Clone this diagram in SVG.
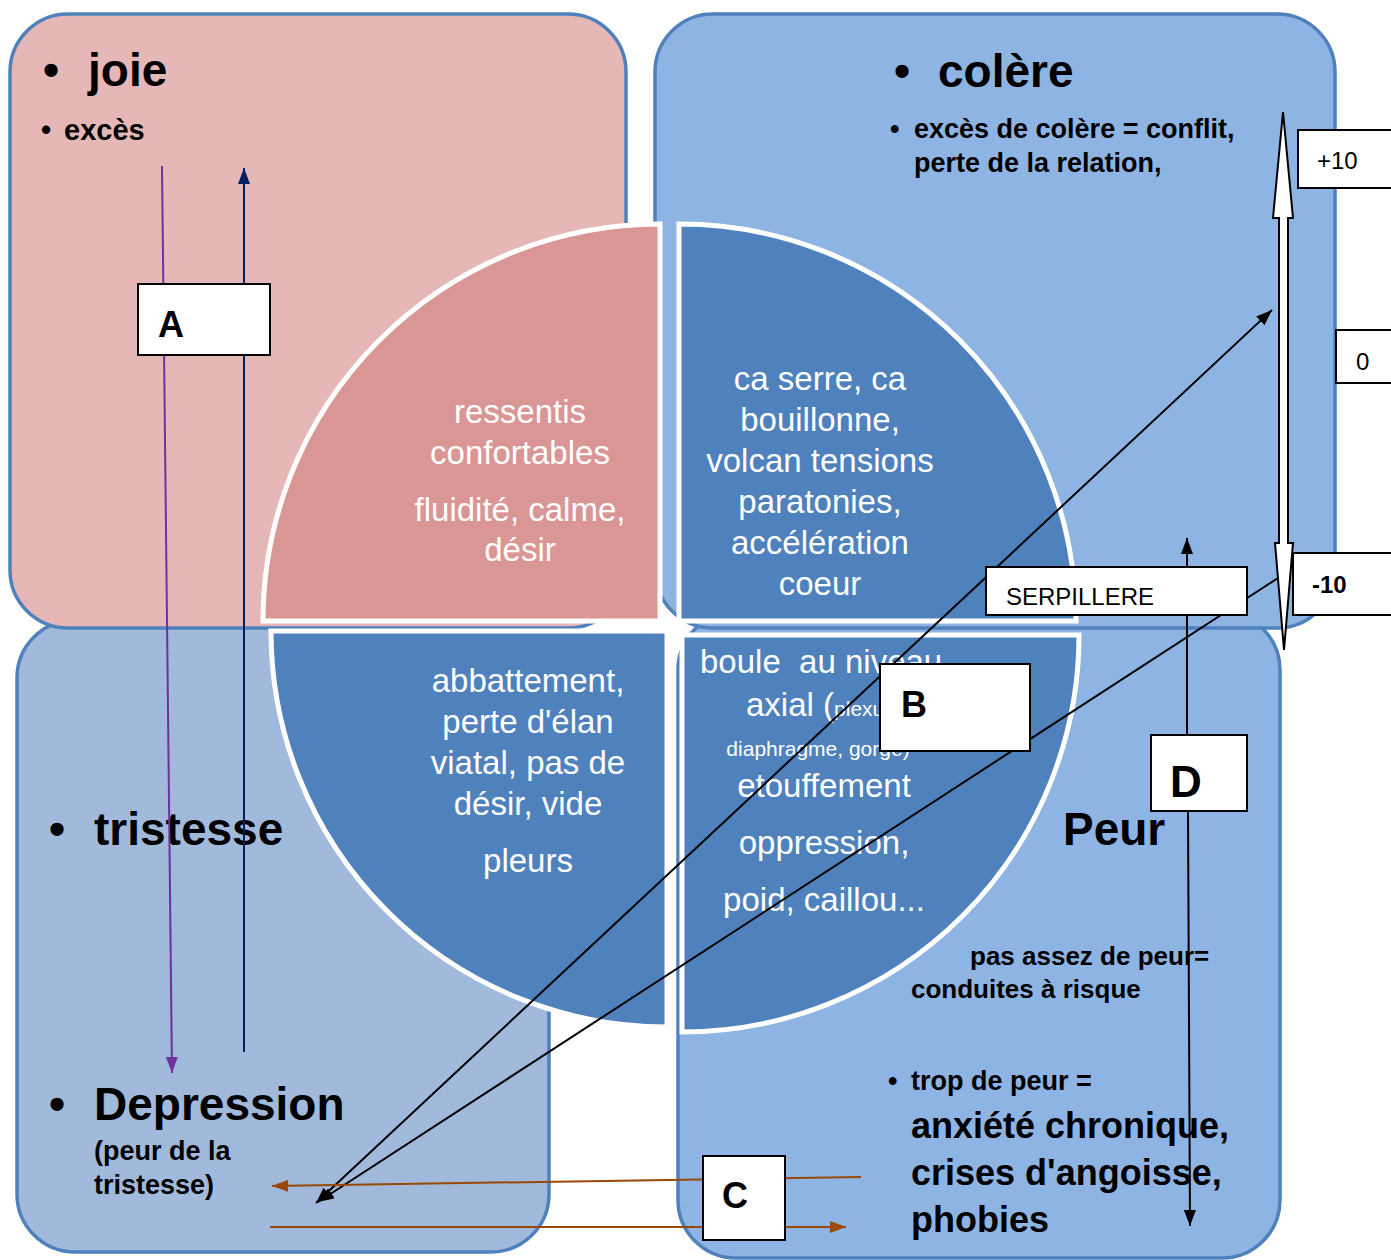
<svg xmlns="http://www.w3.org/2000/svg" width="1391" height="1260" viewBox="0 0 1391 1260">
<style>
text{font-family:"Liberation Sans",Arial,sans-serif}
.bx{stroke:#4F81BD;stroke-width:3.5}
.q{stroke:#fff;stroke-width:5}
.qt{font-size:33px;fill:#fff;text-anchor:middle}
.qs{font-size:21px;fill:#fff}
.h{font-size:46px;font-weight:bold;fill:#000}
.b{font-weight:bold;fill:#000}
.lb{fill:#fff;stroke:#000;stroke-width:2}
.ln{fill:none;stroke-width:2}
</style>
<defs>
<marker id="mk" viewBox="0 0 16 12" refX="16" refY="6" markerWidth="16" markerHeight="12" markerUnits="userSpaceOnUse" orient="auto-start-reverse"><path d="M0,0 L16,6 L0,12 z" fill="#000"/></marker>
<marker id="mp" viewBox="0 0 16 12" refX="16" refY="6" markerWidth="16" markerHeight="12" markerUnits="userSpaceOnUse" orient="auto-start-reverse"><path d="M0,0 L16,6 L0,12 z" fill="#7030A0"/></marker>
<marker id="mn" viewBox="0 0 16 12" refX="16" refY="6" markerWidth="16" markerHeight="12" markerUnits="userSpaceOnUse" orient="auto-start-reverse"><path d="M0,0 L16,6 L0,12 z" fill="#002060"/></marker>
<marker id="mb" viewBox="0 0 16 12" refX="16" refY="6" markerWidth="16" markerHeight="12" markerUnits="userSpaceOnUse" orient="auto-start-reverse"><path d="M0,0 L16,6 L0,12 z" fill="#984807"/></marker>
</defs>
<rect width="1391" height="1260" fill="#fff"/>

<g id="tristesse">
<rect class="bx" x="17" y="620" width="532" height="632" rx="58" fill="#A1BADB"/>
<text class="h" x="49" y="845">•</text>
<text class="h" x="94" y="845">tristesse</text>
<text class="h" x="49" y="1120">•</text>
<text class="h" x="94" y="1120">Depression</text>
<text class="b" x="94" y="1160" font-size="27">(peur de la</text>
<text class="b" x="94" y="1194" font-size="27">tristesse)</text>
</g>

<g id="peur">
<rect class="bx" x="678" y="612" width="602" height="646" rx="58" fill="#8EB4E3"/>
<text class="h" x="1063" y="845">Peur</text>
<text class="b" x="970" y="965" font-size="26">pas assez de peur=</text>
<text class="b" x="911" y="998" font-size="26">conduites à risque</text>
<text class="b" x="888" y="1090" font-size="27">•</text>
<text class="b" x="911" y="1090" font-size="27">trop de peur =</text>
<text class="b" x="911" y="1138" font-size="36">anxiété chronique,</text>
<text class="b" x="911" y="1185" font-size="36">crises d'angoisse,</text>
<text class="b" x="911" y="1232" font-size="36">phobies</text>
</g>

<g id="joie">
<rect class="bx" x="10" y="14" width="616" height="614" rx="58" fill="#E5B8B7"/>
<text class="h" x="43" y="86">•</text>
<text class="h" x="88" y="86">joie</text>
<text class="b" x="41" y="140" font-size="29">•</text>
<text class="b" x="64" y="140" font-size="29">excès</text>
</g>

<g id="colere">
<rect class="bx" x="655" y="14" width="680" height="614" rx="58" fill="#8EB4E3"/>
<text class="h" x="894" y="87">•</text>
<text class="h" x="938" y="87">colère</text>
<text class="b" x="890" y="138" font-size="27">•</text>
<text class="b" x="914" y="138" font-size="27">excès de colère = conflit,</text>
<text class="b" x="914" y="172" font-size="27">perte de la relation,</text>
</g>

<g id="quadrant-joie">
<path class="q" fill="#D99694" d="M660,621 L263,621 A397,397 0 0 1 660,224 Z"/>
<text class="qt" x="520" y="423">ressentis</text>
<text class="qt" x="520" y="464">confortables</text>
<text class="qt" x="520" y="521">fluidité, calme,</text>
<text class="qt" x="520" y="561">désir</text>
</g>
<g id="quadrant-colere">
<path class="q" fill="#4F81BD" d="M679,621 L679,224 A397,397 0 0 1 1076,621 Z"/>
<text class="qt" x="820" y="390">ca serre, ca</text>
<text class="qt" x="820" y="431">bouillonne,</text>
<text class="qt" x="820" y="472">volcan tensions</text>
<text class="qt" x="820" y="513">paratonies,</text>
<text class="qt" x="820" y="554">accélération</text>
<text class="qt" x="820" y="595">coeur</text>
</g>
<g id="quadrant-tristesse">
<path class="q" fill="#4F81BD" d="M667,631 L667,1027 A396,396 0 0 1 271,631 Z"/>
<text class="qt" x="528" y="692">abbattement,</text>
<text class="qt" x="528" y="733">perte d'élan</text>
<text class="qt" x="528" y="774">viatal, pas de</text>
<text class="qt" x="528" y="815">désir, vide</text>
<text class="qt" x="528" y="872">pleurs</text>
</g>
<g id="quadrant-peur">
<path class="q" fill="#4F81BD" d="M682,635 L1079,635 A397,397 0 0 1 682,1032 Z"/>
<text x="700" y="673" font-size="33" fill="#fff" xml:space="preserve">boule  au niveau</text>
<text x="746" y="716" font-size="33" fill="#fff">axial (<tspan font-size="21">plexus</tspan></text>
<text class="qs" x="818" y="756" text-anchor="middle">diaphragme, gorge)</text>
<text class="qt" x="824" y="797">etouffement</text>
<text class="qt" x="824" y="854">oppression,</text>
<text class="qt" x="824" y="911">poid, caillou...</text>
</g>

<g id="connectors">
<path class="ln" stroke="#7030A0" d="M162,166 L172,1073" marker-end="url(#mp)"/>
<path class="ln" stroke="#002060" d="M244,1052 L244,168" marker-end="url(#mn)"/>
<path class="ln" stroke="#000" d="M1187,735 L1187,538" marker-end="url(#mk)"/>
<path class="ln" stroke="#000" d="M1188,811 L1190,1226" marker-end="url(#mk)"/>
<path class="ln" stroke="#000" d="M316,1203 L1272,310" marker-start="url(#mk)" marker-end="url(#mk)"/>
<path class="ln" stroke="#000" d="M1278,578 L318,1202" marker-end="url(#mk)"/>
<path class="ln" stroke="#984807" stroke-width="2.5" d="M861,1177 L272,1186" marker-end="url(#mb)"/>
<path class="ln" stroke="#984807" stroke-width="2.5" d="M270,1227 L846,1227" marker-end="url(#mb)"/>
</g>

<g id="A"><rect class="lb" x="138" y="284" width="132" height="71"/><text class="b" x="158" y="337" font-size="36">A</text></g>
<g id="B"><rect class="lb" x="880" y="664" width="150" height="87"/><text class="b" x="901" y="717" font-size="36">B</text></g>
<g id="C"><rect class="lb" x="703" y="1156" width="82" height="84"/><text class="b" x="722" y="1208" font-size="36">C</text></g>
<g id="D"><rect class="lb" x="1151" y="735" width="96" height="76"/><text class="b" x="1170" y="797" font-size="44">D</text></g>
<g id="serpillere"><rect class="lb" x="986" y="567" width="261" height="48"/><text x="1006" y="605" font-size="24" fill="#000">SERPILLERE</text></g>
<g id="plus10"><rect class="lb" x="1298" y="130" width="100" height="58"/><text x="1317" y="169" font-size="24" fill="#000">+10</text></g>
<g id="zero"><rect class="lb" x="1336" y="330" width="62" height="53"/><text x="1356" y="370" font-size="24" fill="#000">0</text></g>
<g id="minus10"><rect class="lb" x="1293" y="553" width="105" height="62"/><text class="b" x="1312" y="593" font-size="24">-10</text></g>

<g id="scale-arrow">
<path fill="#fff" stroke="#000" stroke-width="2" d="M1283,112 L1293,218 L1288,218 L1288,543 L1293,543 L1284,650 L1275,543 L1279,543 L1279,218 L1273,218 Z"/>
</g>
</svg>
